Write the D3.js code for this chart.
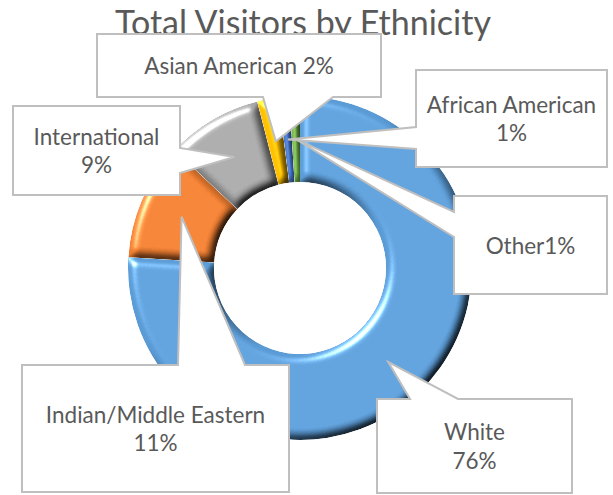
<!DOCTYPE html>
<html>
<head>
<meta charset="utf-8">
<script src="https://cdn.jsdelivr.net/npm/d3@7"></script>
<style>
  html, body { margin: 0; padding: 0; background: #fff; }
  svg { display: block; }
  text { font-family: Lato, "Open Sans", sans-serif; fill: #595959; }
</style>
</head>
<body>
<svg id="chart" width="613" height="495"></svg>
<script>
// Share of total visitors by ethnicity (percent)
const categories = ["White", "Indian/Middle Eastern", "International", "Asian American", "African American", "Other"];
const shares = [76, 11, 9, 2, 1, 1];
const labelLines = [
  ["White", "76%"],
  ["Indian/Middle Eastern", "11%"],
  ["International", "9%"],
  ["Asian American 2%"],
  ["African American", "1%"],
  ["Other1%"]
];
const colors = ["#5B9BD5", "#ED7D31", "#A5A5A5", "#FFC000", "#4472C4", "#70AD47"];

// Callout boxes: rectangle and the side/extent where the pointer leaves it
const callouts = [
  { box: [377, 399, 572, 493], side: "top",    base: [410, 458] },
  { box: [22, 365, 289, 492],  side: "top",    base: [178, 245] },
  { box: [13, 106, 180, 195],  side: "right",  base: [148, 173] },
  { box: [97, 34, 381, 97],    side: "bottom", base: [263, 333] },
  { box: [416, 70, 607, 167],  side: "left",   base: [127, 149] },
  { box: [454, 196, 607, 294], side: "left",   base: [212, 237] }
];

const svg = d3.select("#chart");
const cx = 300, cy = 268, rOuter = 172, rInner = 86;

// Bevel lighting for each ring segment
const defs = svg.append("defs");
const f = defs.append("filter").attr("id", "bevel")
  .attr("x", "-10%").attr("y", "-10%").attr("width", "120%").attr("height", "120%")
  .attr("color-interpolation-filters", "sRGB");
f.append("feGaussianBlur").attr("in", "SourceAlpha").attr("stdDeviation", 4.5).attr("result", "blur");
f.append("feDiffuseLighting").attr("in", "blur").attr("surfaceScale", 5)
  .attr("diffuseConstant", 1.556).attr("lighting-color", "#fff").attr("result", "diff")
  .append("feDistantLight").attr("azimuth", 225).attr("elevation", 40);
f.append("feComposite").attr("in", "SourceGraphic").attr("in2", "diff")
  .attr("operator", "arithmetic").attr("k1", 1).attr("k2", 0).attr("k3", 0).attr("k4", 0).attr("result", "lit");
// keep some of the base colour so shaded rims stay tinted
f.append("feComposite").attr("in", "lit").attr("in2", "SourceGraphic")
  .attr("operator", "arithmetic").attr("k1", 0).attr("k2", 0.78).attr("k3", 0.22).attr("k4", 0).attr("result", "mixed");
f.append("feSpecularLighting").attr("in", "blur").attr("surfaceScale", 5)
  .attr("specularConstant", 0.75).attr("specularExponent", 30).attr("lighting-color", "#fff").attr("result", "spec")
  .append("feDistantLight").attr("azimuth", 225).attr("elevation", 40);
f.append("feComposite").attr("in", "spec").attr("in2", "SourceAlpha").attr("operator", "in").attr("result", "specIn");
f.append("feComposite").attr("in", "mixed").attr("in2", "specIn")
  .attr("operator", "arithmetic").attr("k1", 0).attr("k2", 1).attr("k3", 1).attr("k4", 0).attr("result", "out");
f.append("feComposite").attr("in", "out").attr("in2", "SourceAlpha").attr("operator", "in");

const data = categories.map((c, i) => ({ category: c, value: shares[i], color: colors[i], lines: labelLines[i], callout: callouts[i] }));

const pie = d3.pie().value(d => d.value).sort(null).startAngle(0).endAngle(2 * Math.PI);
const arc = d3.arc().innerRadius(rInner).outerRadius(rOuter);
const pointerArc = d3.arc().innerRadius(rInner + 43).outerRadius(rInner + 43);
const arcs = pie(data);

const ring = svg.append("g").attr("transform", `translate(${cx},${cy})`);
ring.selectAll("path.slice")
  .data(arcs)
  .join("path")
  .attr("class", "slice")
  .attr("d", arc)
  .attr("fill", d => d.data.color)
  .attr("filter", "url(#bevel)");

// Title
svg.append("text")
  .attr("x", 303).attr("y", 35)
  .attr("text-anchor", "middle")
  .style("font-size", "34px")
  .text("Total Visitors by Ethnicity");

// Callout outline: rectangle with a wedge reaching the segment centre
function calloutPath(c, tip) {
  const [x0, y0, x1, y1] = c.box;
  const [a, b] = c.base;
  let pts;
  if (c.side === "top") pts = [[x0, y0], [a, y0], tip, [b, y0], [x1, y0], [x1, y1], [x0, y1]];
  else if (c.side === "bottom") pts = [[x0, y0], [x1, y0], [x1, y1], [b, y1], tip, [a, y1], [x0, y1]];
  else if (c.side === "left") pts = [[x0, y0], [x1, y0], [x1, y1], [x0, y1], [x0, b], tip, [x0, a]];
  else pts = [[x0, y0], [x1, y0], [x1, a], tip, [x1, b], [x1, y1], [x0, y1]];
  return "M" + pts.map(p => p.join(",")).join("L") + "Z";
}

const labelSize = 22.5, lineH = 28.6;
const labels = svg.append("g");
arcs.forEach(d => {
  const c = d.data.callout;
  const [px, py] = pointerArc.centroid(d);
  const tip = [cx + px, cy + py];
  const g = labels.append("g");
  g.append("path")
    .attr("d", calloutPath(c, tip))
    .attr("fill", "#fff")
    .attr("stroke", "#BFBFBF")
    .attr("stroke-width", 2)
    .attr("stroke-linejoin", "miter");
  const bx = (c.box[0] + c.box[2]) / 2, by = (c.box[1] + c.box[3]) / 2;
  const n = d.data.lines.length;
  d.data.lines.forEach((t, i) => {
    g.append("text")
      .attr("x", bx)
      .attr("y", by + (i - (n - 1) / 2) * lineH + labelSize * 0.38)
      .attr("text-anchor", "middle")
      .style("font-size", labelSize + "px")
      .text(t);
  });
});
</script>
</body>
</html>
